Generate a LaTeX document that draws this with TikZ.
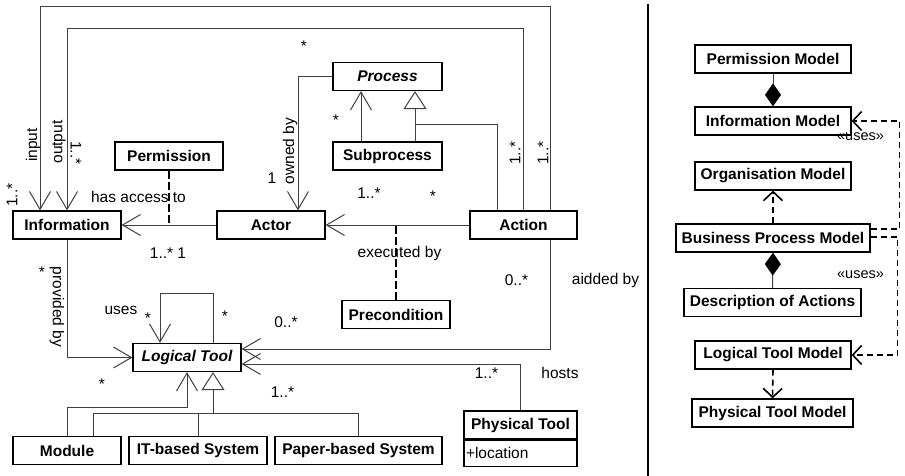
\documentclass[tikz,border=0pt]{standalone}
\usepackage{fontspec}
\setmainfont{Liberation Sans}
\usetikzlibrary{arrows.meta}
\newcommand\fsz{\fontsize{15.5}{18}\selectfont}
\begin{document}
\begin{tikzpicture}[x=1pt,y=-1pt,
  every node/.style={font=\fsz, inner sep=0pt},
  cls/.style={draw, line width=1.2pt, minimum height=28pt, font=\bfseries\fsz},
  abst/.style={font=\bfseries\itshape\fsz},
  conn/.style={line width=1pt, draw=black!75},
  opn/.style={-{Straight Barb[length=18pt,width=21pt]}},
  gen/.style={-{Triangle[open,length=18pt,width=23pt,fill=white]}},
  comp/.style={{Diamond[length=23pt,width=16pt,fill=black,black]}-},
  dep/.style={-{Straight Barb[length=9pt,width=19pt]}},
  dashA/.style={line width=2pt, dash pattern=on 8pt off 3pt},
  dashB/.style={line width=1.6pt, dash pattern=on 6pt off 4pt},
  lab/.style={font=\fsz},
  ]
\useasboundingbox (0,0) rectangle (905,476);

% ---------- domain classes ----------
\node[cls, minimum width=108pt] (info)    at (67,225)    {Information};
\node[cls, minimum width=108pt] (perm)    at (169,156)   {Permission};
\node[cls, minimum width=108pt] (actor)   at (271,225)   {Actor};
\node[cls, abst, minimum width=109pt] (proc) at (387.5,76.5) {Process};
\node[cls, minimum width=109pt] (subp)    at (387.5,156) {Subprocess};
\node[cls, minimum width=107pt] (action)  at (523.5,225) {Action};
\node[cls, minimum width=108pt] (precond) at (396,314.5) {Precondition};
\node[cls, abst, minimum width=108pt] (ltool) at (187,357.5) {Logical Tool};
\node[cls, minimum width=108pt] (module)  at (67,450.5)  {Module};
\node[cls, minimum width=138pt] (itsys)   at (198,450.5) {IT-based System};
\node[cls, minimum width=167pt] (paper)   at (358.5,450.5) {Paper-based System};
\node[cls, minimum width=113pt] (ptool)   at (520.5,425) {Physical Tool};
\node[draw, line width=1.2pt, minimum height=26pt, text width=109pt,
      inner xsep=2pt, align=left, anchor=north] (ptloc) at (ptool.south) {+location};

% ---------- associations ----------
\draw[conn, opn] ([xshift=26.5pt]action.north) |- (40,7) -- ([xshift=-27pt]info.north);
\draw[conn, opn] (action.north) |- (67,29) -- (info.north);
\draw[conn, opn] (action.west) -- (actor.east);
\draw[conn, opn] (actor.west) -- (info.east);
\draw[dashA] (perm.south) -- (perm.south |- info.east);
\draw[dashA] (precond.north) -- (precond.north |- action.west);
\draw[conn, opn] (proc.west) -| ([xshift=27pt]actor.north);
\draw[conn, opn] ([xshift=-26.5pt]subp.north) -- ([xshift=-26.5pt]proc.south);
\draw[conn, gen] ([xshift=27.5pt]subp.north) -- ([xshift=27.5pt]proc.south);
\draw[conn] ([xshift=-26.5pt]action.north) |- (415,125);
\draw[conn, opn] (info.south) |- (ltool.west);
\draw[conn, opn] ([xshift=26pt]ltool.north) |- (160,293) -- ([xshift=-27pt]ltool.north);
\draw[conn, opn] ([xshift=27pt]action.south) |- ([yshift=8.5pt]ltool.east);
\draw[conn, opn] (ptool.north) |- ([yshift=-6.5pt]ltool.east);
\draw[conn, opn] (module.north) |- (187,407) -- (ltool.south);
\draw[conn] ([xshift=26pt]module.north) |- (358.5,413) -- (paper.north);
\draw[conn] (itsys.north) -- (itsys.north |- 0,413);
\draw[conn, gen] (213,413) -- ([xshift=26pt]ltool.south);

% ---------- labels ----------
\node[lab, rotate=90] at (33,145) {input};
\node[lab, rotate=90] at (59,142) {output};
\node[lab, rotate=-90] at (76,153) {1..*};
\node[lab, rotate=90] at (12,195) {1..*};
\node[lab] at (138.5,197) {has access to};
\node[lab, rotate=90] at (515,153) {1..*};
\node[lab, rotate=90] at (543,153) {1..*};
\node[lab] at (304,46.5) {*};
\node[lab] at (336,120.5) {*};
\node[lab] at (272,178) {1};
\node[lab, rotate=90] at (290,151) {owned by};
\node[lab] at (369,193) {1..*};
\node[lab] at (433,196.5) {*};
\node[lab] at (168,253) {1..* 1};
\node[lab] at (399.5,253) {executed by};
\node[lab] at (516.5,280) {0..*};
\node[lab] at (605.5,280) {aidded by};
\node[lab] at (42,272.5) {*};
\node[lab, rotate=-90] at (57,307) {provided by};
\node[lab] at (121,310) {uses};
\node[lab] at (148,318.5) {*};
\node[lab] at (225,316.5) {*};
\node[lab] at (286,322) {0..*};
\node[lab] at (282.5,392) {1..*};
\node[lab] at (102,384.5) {*};
\node[lab] at (486.5,373) {1..*};
\node[lab] at (560,373) {hosts};

% ---------- separator ----------
\draw[line width=2pt] (648,4) -- (648,476);

% ---------- model packages ----------
\node[cls, minimum width=156pt] (permM) at (773,59)    {Permission Model};
\node[cls, minimum width=156pt] (infoM) at (773,121)   {Information Model};
\node[cls, minimum width=156pt] (orgM)  at (773,176)   {Organisation Model};
\node[cls, minimum width=194pt] (bpm)   at (773,238)   {Business Process Model};
\node[cls, minimum width=177pt] (descA) at (772.5,302.5) {Description of Actions};
\node[cls, minimum width=156pt] (ltM)   at (773,355)   {Logical Tool Model};
\node[cls, minimum width=161pt] (ptM)   at (772.5,413) {Physical Tool Model};

\draw[conn, comp] (infoM.north) -- (permM.south);
\draw[conn, comp] (bpm.south) -- (descA.north);
\draw[dashB, dep] (bpm.north) -- (orgM.south);
\draw[dashB, dep] (ltM.south) -- (ptM.north);
\draw[dashB, dep] ([yshift=9pt]bpm.east) -| ([xshift=48pt]infoM.east) -- (infoM.east);
\draw[dashB, dep] ([yshift=1pt]bpm.east) -| ([xshift=46pt]ltM.east) -- (ltM.east);
\node[lab, font=\fontsize{14.5}{17}\selectfont] at (860.5,137) {«uses»};
\node[lab, font=\fontsize{14.5}{17}\selectfont] at (860.5,275) {«uses»};
\end{tikzpicture}
\end{document}
